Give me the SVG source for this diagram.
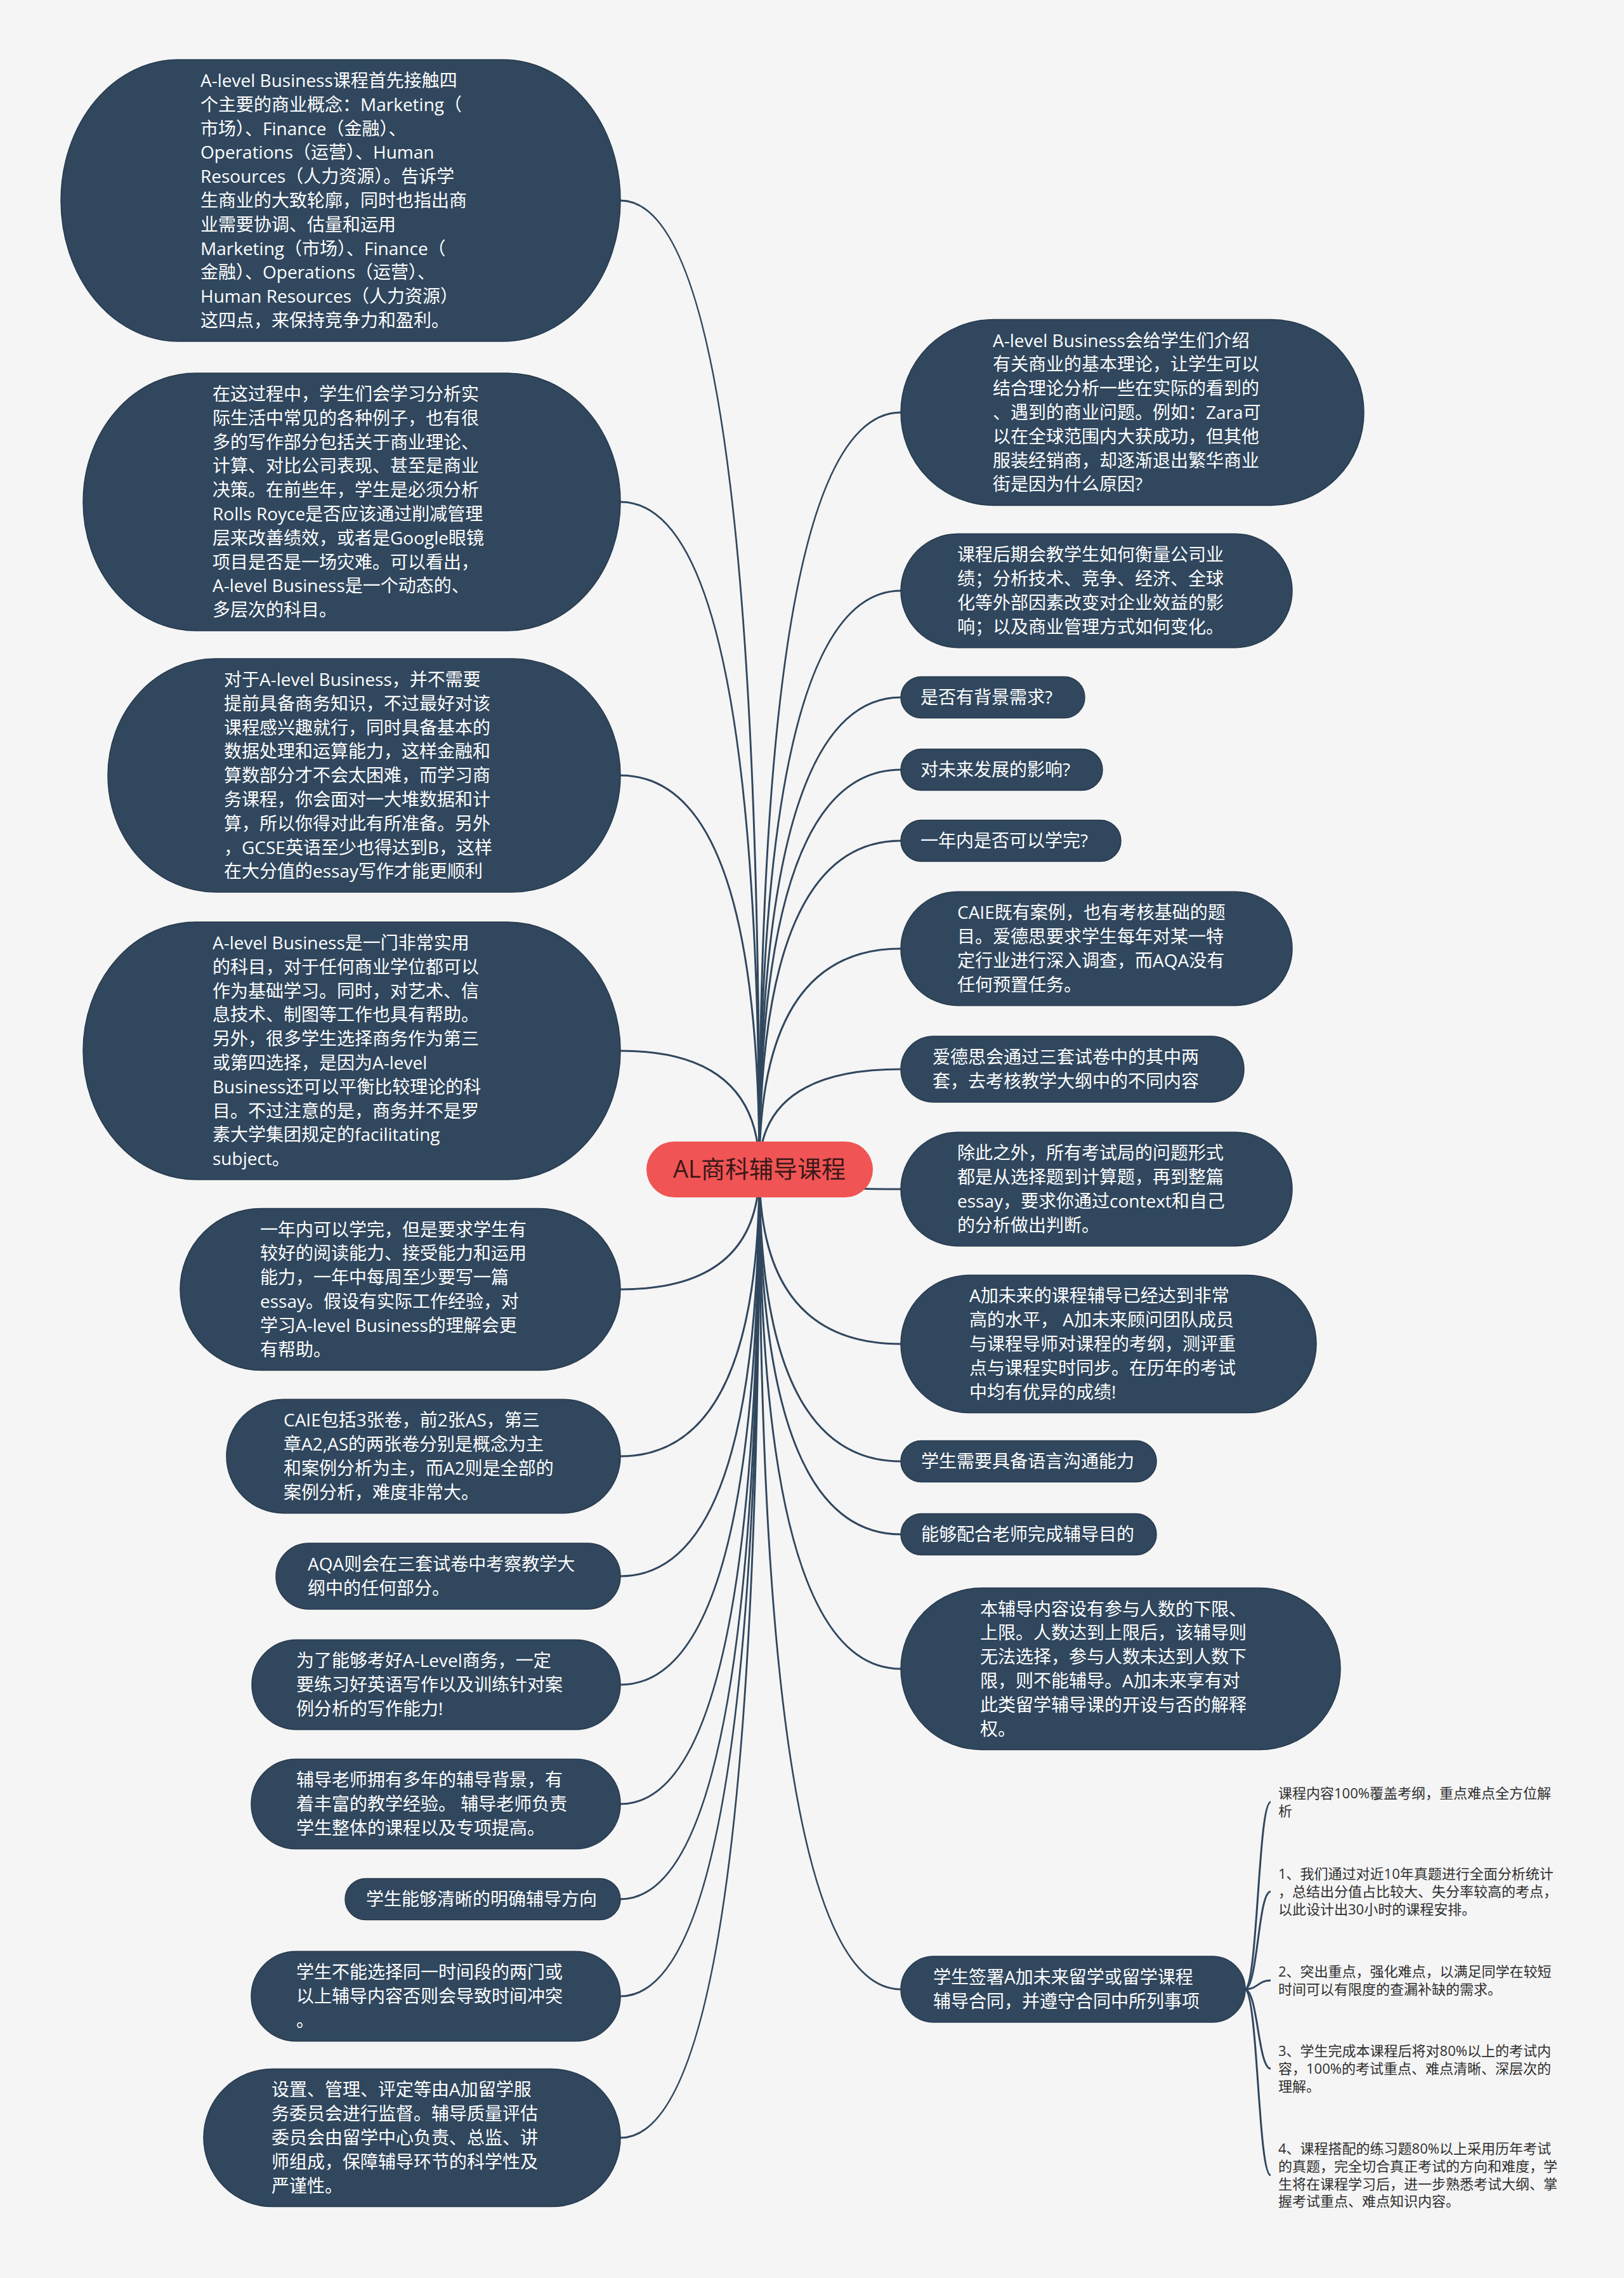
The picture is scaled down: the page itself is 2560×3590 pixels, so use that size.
<svg xmlns="http://www.w3.org/2000/svg" width="2560" height="3590" viewBox="0 0 2560 3590">
<style>
.bg{fill:#f5f5f5}
.links path{fill:none;stroke:#30475e;stroke-width:3}
.node rect{fill:#30475e;stroke:#26394d;stroke-width:1.5}
.node text{fill:#ffffff;font-family:"Open Sans","Noto Sans CJK SC",sans-serif;font-size:28px}
.root rect{fill:#f05454}
.root text{fill:#3a1818;font-family:"Open Sans","Noto Sans CJK SC",sans-serif;font-size:38px;text-anchor:middle}
.sub text{fill:#2e2e2e;font-family:"Open Sans","Noto Sans CJK SC",sans-serif;font-size:22px}
</style>
<rect class="bg" x="0" y="0" width="2560" height="3590"/>
<g id="connectors" class="links">
<path d="M1197,1843 Q1197,316 978,316"/>
<path d="M1197,1843 Q1197,791 978,791"/>
<path d="M1197,1843 Q1197,1222 978,1222"/>
<path d="M1197,1843 Q1197,1656 978,1656"/>
<path d="M1197,1843 Q1197,2032 978,2032"/>
<path d="M1197,1843 Q1197,2295 978,2295"/>
<path d="M1197,1843 Q1197,2484 978,2484"/>
<path d="M1197,1843 Q1197,2655 978,2655"/>
<path d="M1197,1843 Q1197,2843 978,2843"/>
<path d="M1197,1843 Q1197,2993 978,2993"/>
<path d="M1197,1843 Q1197,3146 978,3146"/>
<path d="M1197,1843 Q1197,3369 978,3369"/>
<path d="M1197,1843 Q1197,650 1420,650"/>
<path d="M1197,1843 Q1197,931 1420,931"/>
<path d="M1197,1843 Q1197,1099 1420,1099"/>
<path d="M1197,1843 Q1197,1213 1420,1213"/>
<path d="M1197,1843 Q1197,1325 1420,1325"/>
<path d="M1197,1843 Q1197,1495 1420,1495"/>
<path d="M1197,1843 Q1197,1685 1420,1685"/>
<path d="M1197,1843 Q1197,1874 1420,1874"/>
<path d="M1197,1843 Q1197,2118 1420,2118"/>
<path d="M1197,1843 Q1197,2303 1420,2303"/>
<path d="M1197,1843 Q1197,2418 1420,2418"/>
<path d="M1197,1843 Q1197,2630 1420,2630"/>
<path d="M1197,1843 Q1197,3135 1420,3135"/>
<path d="M1962,3135 C1983,3135 1983,2840 2003,2840"/>
<path d="M1962,3135 C1983,3135 1983,2981 2003,2981"/>
<path d="M1962,3135 C1983,3135 1983,3121 2003,3121"/>
<path d="M1962,3135 C1983,3135 1983,3260 2003,3260"/>
<path d="M1962,3135 C1983,3135 1983,3428 2003,3428"/>
</g>
<g id="root" class="root">
<rect x="1019" y="1799" width="357" height="88" rx="44" ry="44"/>
<text x="1197" y="1856">AL商科辅导课程</text>
</g>
<g id="L1" class="node">
<rect x="96" y="94" width="882" height="444" rx="185" ry="222"/>
<text x="316" y="137"><tspan x="316" dy="0">A-level Business课程首先接触四</tspan><tspan x="316" dy="37.8">个主要的商业概念：Marketing（</tspan><tspan x="316" dy="37.8">市场）、Finance（金融）、</tspan><tspan x="316" dy="37.8">Operations（运营）、Human</tspan><tspan x="316" dy="37.8">Resources（人力资源）。告诉学</tspan><tspan x="316" dy="37.8">生商业的大致轮廓，同时也指出商</tspan><tspan x="316" dy="37.8">业需要协调、估量和运用</tspan><tspan x="316" dy="37.8">Marketing（市场）、Finance（</tspan><tspan x="316" dy="37.8">金融）、Operations（运营）、</tspan><tspan x="316" dy="37.8">Human Resources（人力资源）</tspan><tspan x="316" dy="37.8">这四点，来保持竞争力和盈利。</tspan></text>
</g>
<g id="L2" class="node">
<rect x="131" y="588" width="847" height="406" rx="178" ry="203"/>
<text x="335" y="631"><tspan x="335" dy="0">在这过程中，学生们会学习分析实</tspan><tspan x="335" dy="37.8">际生活中常见的各种例子，也有很</tspan><tspan x="335" dy="37.8">多的写作部分包括关于商业理论、</tspan><tspan x="335" dy="37.8">计算、对比公司表现、甚至是商业</tspan><tspan x="335" dy="37.8">决策。在前些年，学生是必须分析</tspan><tspan x="335" dy="37.8">Rolls Royce是否应该通过削减管理</tspan><tspan x="335" dy="37.8">层来改善绩效，或者是Google眼镜</tspan><tspan x="335" dy="37.8">项目是否是一场灾难。可以看出，</tspan><tspan x="335" dy="37.8">A-level Business是一个动态的、</tspan><tspan x="335" dy="37.8">多层次的科目。</tspan></text>
</g>
<g id="L3" class="node">
<rect x="170" y="1038" width="808" height="368" rx="170" ry="184"/>
<text x="353" y="1081"><tspan x="353" dy="0">对于A-level Business，并不需要</tspan><tspan x="353" dy="37.8">提前具备商务知识，不过最好对该</tspan><tspan x="353" dy="37.8">课程感兴趣就行，同时具备基本的</tspan><tspan x="353" dy="37.8">数据处理和运算能力，这样金融和</tspan><tspan x="353" dy="37.8">算数部分才不会太困难，而学习商</tspan><tspan x="353" dy="37.8">务课程，你会面对一大堆数据和计</tspan><tspan x="353" dy="37.8">算，所以你得对此有所准备。另外</tspan><tspan x="353" dy="37.8">，GCSE英语至少也得达到B，这样</tspan><tspan x="353" dy="37.8">在大分值的essay写作才能更顺利</tspan></text>
</g>
<g id="L4" class="node">
<rect x="131" y="1453" width="847" height="406" rx="178" ry="203"/>
<text x="335" y="1496"><tspan x="335" dy="0">A-level Business是一门非常实用</tspan><tspan x="335" dy="37.8">的科目，对于任何商业学位都可以</tspan><tspan x="335" dy="37.8">作为基础学习。同时，对艺术、信</tspan><tspan x="335" dy="37.8">息技术、制图等工作也具有帮助。</tspan><tspan x="335" dy="37.8">另外，很多学生选择商务作为第三</tspan><tspan x="335" dy="37.8">或第四选择，是因为A-level</tspan><tspan x="335" dy="37.8">Business还可以平衡比较理论的科</tspan><tspan x="335" dy="37.8">目。不过注意的是，商务并不是罗</tspan><tspan x="335" dy="37.8">素大学集团规定的facilitating</tspan><tspan x="335" dy="37.8">subject。</tspan></text>
</g>
<g id="L5" class="node">
<rect x="284" y="1904.5" width="694" height="255" rx="127.5" ry="127.5"/>
<text x="410" y="1947.5"><tspan x="410" dy="0">一年内可以学完，但是要求学生有</tspan><tspan x="410" dy="37.8">较好的阅读能力、接受能力和运用</tspan><tspan x="410" dy="37.8">能力，一年中每周至少要写一篇</tspan><tspan x="410" dy="37.8">essay。假设有实际工作经验，对</tspan><tspan x="410" dy="37.8">学习A-level Business的理解会更</tspan><tspan x="410" dy="37.8">有帮助。</tspan></text>
</g>
<g id="L6" class="node">
<rect x="357" y="2205.3" width="621" height="179.4" rx="89.7" ry="89.7"/>
<text x="447" y="2248.3"><tspan x="447" dy="0">CAIE包括3张卷，前2张AS，第三</tspan><tspan x="447" dy="37.8">章A2,AS的两张卷分别是概念为主</tspan><tspan x="447" dy="37.8">和案例分析为主，而A2则是全部的</tspan><tspan x="447" dy="37.8">案例分析，难度非常大。</tspan></text>
</g>
<g id="L7" class="node">
<rect x="435" y="2432.1" width="543" height="103.8" rx="51.9" ry="51.9"/>
<text x="485" y="2475.1"><tspan x="485" dy="0">AQA则会在三套试卷中考察教学大</tspan><tspan x="485" dy="37.8">纲中的任何部分。</tspan></text>
</g>
<g id="L8" class="node">
<rect x="397" y="2584.2" width="581" height="141.6" rx="70.8" ry="70.8"/>
<text x="467" y="2627.2"><tspan x="467" dy="0">为了能够考好A-Level商务，一定</tspan><tspan x="467" dy="37.8">要练习好英语写作以及训练针对案</tspan><tspan x="467" dy="37.8">例分析的写作能力!</tspan></text>
</g>
<g id="L9" class="node">
<rect x="396" y="2772.2" width="582" height="141.6" rx="70.8" ry="70.8"/>
<text x="467" y="2815.2"><tspan x="467" dy="0">辅导老师拥有多年的辅导背景，有</tspan><tspan x="467" dy="37.8">着丰富的教学经验。 辅导老师负责</tspan><tspan x="467" dy="37.8">学生整体的课程以及专项提高。</tspan></text>
</g>
<g id="L10" class="node">
<rect x="544" y="2960.5" width="434" height="65" rx="32.5" ry="32.5"/>
<text x="577" y="3003">学生能够清晰的明确辅导方向</text>
</g>
<g id="L11" class="node">
<rect x="396" y="3075.2" width="582" height="141.6" rx="70.8" ry="70.8"/>
<text x="467" y="3118.2"><tspan x="467" dy="0">学生不能选择同一时间段的两门或</tspan><tspan x="467" dy="37.8">以上辅导内容否则会导致时间冲突</tspan><tspan x="467" dy="37.8">。</tspan></text>
</g>
<g id="L12" class="node">
<rect x="321" y="3260.4" width="657" height="217.2" rx="108.6" ry="108.6"/>
<text x="428" y="3303.4"><tspan x="428" dy="0">设置、管理、评定等由A加留学服</tspan><tspan x="428" dy="37.8">务委员会进行监督。辅导质量评估</tspan><tspan x="428" dy="37.8">委员会由留学中心负责、总监、讲</tspan><tspan x="428" dy="37.8">师组成，保障辅导环节的科学性及</tspan><tspan x="428" dy="37.8">严谨性。</tspan></text>
</g>
<g id="R1" class="node">
<rect x="1420" y="503.6" width="730" height="292.8" rx="146.4" ry="146.4"/>
<text x="1565" y="546.6"><tspan x="1565" dy="0">A-level Business会给学生们介绍</tspan><tspan x="1565" dy="37.8">有关商业的基本理论，让学生可以</tspan><tspan x="1565" dy="37.8">结合理论分析一些在实际的看到的</tspan><tspan x="1565" dy="37.8">、遇到的商业问题。例如：Zara可</tspan><tspan x="1565" dy="37.8">以在全球范围内大获成功，但其他</tspan><tspan x="1565" dy="37.8">服装经销商，却逐渐退出繁华商业</tspan><tspan x="1565" dy="37.8">街是因为什么原因?</tspan></text>
</g>
<g id="R2" class="node">
<rect x="1420" y="841.3" width="617" height="179.4" rx="89.7" ry="89.7"/>
<text x="1509" y="884.3"><tspan x="1509" dy="0">课程后期会教学生如何衡量公司业</tspan><tspan x="1509" dy="37.8">绩；分析技术、竞争、经济、全球</tspan><tspan x="1509" dy="37.8">化等外部因素改变对企业效益的影</tspan><tspan x="1509" dy="37.8">响；以及商业管理方式如何变化。</tspan></text>
</g>
<g id="R3" class="node">
<rect x="1420" y="1066.5" width="290" height="65" rx="32.5" ry="32.5"/>
<text x="1451" y="1109">是否有背景需求?</text>
</g>
<g id="R4" class="node">
<rect x="1420" y="1180.5" width="318" height="65" rx="32.5" ry="32.5"/>
<text x="1451" y="1223">对未来发展的影响?</text>
</g>
<g id="R5" class="node">
<rect x="1420" y="1292.5" width="347" height="65" rx="32.5" ry="32.5"/>
<text x="1451" y="1335">一年内是否可以学完?</text>
</g>
<g id="R6" class="node">
<rect x="1420" y="1405.3" width="617" height="179.4" rx="89.7" ry="89.7"/>
<text x="1509" y="1448.3"><tspan x="1509" dy="0">CAIE既有案例，也有考核基础的题</tspan><tspan x="1509" dy="37.8">目。爱德思要求学生每年对某一特</tspan><tspan x="1509" dy="37.8">定行业进行深入调查，而AQA没有</tspan><tspan x="1509" dy="37.8">任何预置任务。</tspan></text>
</g>
<g id="R7" class="node">
<rect x="1420" y="1633.1" width="541" height="103.8" rx="51.9" ry="51.9"/>
<text x="1470" y="1676.1"><tspan x="1470" dy="0">爱德思会通过三套试卷中的其中两</tspan><tspan x="1470" dy="37.8">套，去考核教学大纲中的不同内容</tspan></text>
</g>
<g id="R8" class="node">
<rect x="1420" y="1784.3" width="617" height="179.4" rx="89.7" ry="89.7"/>
<text x="1509" y="1827.3"><tspan x="1509" dy="0">除此之外，所有考试局的问题形式</tspan><tspan x="1509" dy="37.8">都是从选择题到计算题，再到整篇</tspan><tspan x="1509" dy="37.8">essay，要求你通过context和自己</tspan><tspan x="1509" dy="37.8">的分析做出判断。</tspan></text>
</g>
<g id="R9" class="node">
<rect x="1420" y="2009.4" width="655" height="217.2" rx="108.6" ry="108.6"/>
<text x="1528" y="2052.4"><tspan x="1528" dy="0">A加未来的课程辅导已经达到非常</tspan><tspan x="1528" dy="37.8">高的水平， A加未来顾问团队成员</tspan><tspan x="1528" dy="37.8">与课程导师对课程的考纲，测评重</tspan><tspan x="1528" dy="37.8">点与课程实时同步。在历年的考试</tspan><tspan x="1528" dy="37.8">中均有优异的成绩!</tspan></text>
</g>
<g id="R10" class="node">
<rect x="1420" y="2270.5" width="403" height="65" rx="32.5" ry="32.5"/>
<text x="1452" y="2313">学生需要具备语言沟通能力</text>
</g>
<g id="R11" class="node">
<rect x="1420" y="2385.5" width="403" height="65" rx="32.5" ry="32.5"/>
<text x="1452" y="2428">能够配合老师完成辅导目的</text>
</g>
<g id="R12" class="node">
<rect x="1420" y="2502.5" width="693" height="255" rx="127.5" ry="127.5"/>
<text x="1545" y="2545.5"><tspan x="1545" dy="0">本辅导内容设有参与人数的下限、</tspan><tspan x="1545" dy="37.8">上限。人数达到上限后，该辅导则</tspan><tspan x="1545" dy="37.8">无法选择，参与人数未达到人数下</tspan><tspan x="1545" dy="37.8">限，则不能辅导。A加未来享有对</tspan><tspan x="1545" dy="37.8">此类留学辅导课的开设与否的解释</tspan><tspan x="1545" dy="37.8">权。</tspan></text>
</g>
<g id="R13" class="node">
<rect x="1420" y="3083.1" width="543" height="103.8" rx="51.9" ry="51.9"/>
<text x="1471" y="3126.1"><tspan x="1471" dy="0">学生签署A加未来留学或留学课程</tspan><tspan x="1471" dy="37.8">辅导合同，并遵守合同中所列事项</tspan></text>
</g>
<g id="S1" class="sub">
<text x="2015" y="2834"><tspan x="2015" dy="0">课程内容100%覆盖考纲，重点难点全方位解</tspan><tspan x="2015" dy="27.8">析</tspan></text>
</g>
<g id="S2" class="sub">
<text x="2015" y="2961"><tspan x="2015" dy="0">1、我们通过对近10年真题进行全面分析统计</tspan><tspan x="2015" dy="27.8">，总结出分值占比较大、失分率较高的考点，</tspan><tspan x="2015" dy="27.8">以此设计出30小时的课程安排。</tspan></text>
</g>
<g id="S3" class="sub">
<text x="2015" y="3115"><tspan x="2015" dy="0">2、突出重点，强化难点，以满足同学在较短</tspan><tspan x="2015" dy="27.8">时间可以有限度的查漏补缺的需求。</tspan></text>
</g>
<g id="S4" class="sub">
<text x="2015" y="3240"><tspan x="2015" dy="0">3、学生完成本课程后将对80%以上的考试内</tspan><tspan x="2015" dy="27.8">容，100%的考试重点、难点清晰、深层次的</tspan><tspan x="2015" dy="27.8">理解。</tspan></text>
</g>
<g id="S5" class="sub">
<text x="2015" y="3394"><tspan x="2015" dy="0">4、课程搭配的练习题80%以上采用历年考试</tspan><tspan x="2015" dy="27.8">的真题，完全切合真正考试的方向和难度，学</tspan><tspan x="2015" dy="27.8">生将在课程学习后，进一步熟悉考试大纲、掌</tspan><tspan x="2015" dy="27.8">握考试重点、难点知识内容。</tspan></text>
</g>
</svg>
